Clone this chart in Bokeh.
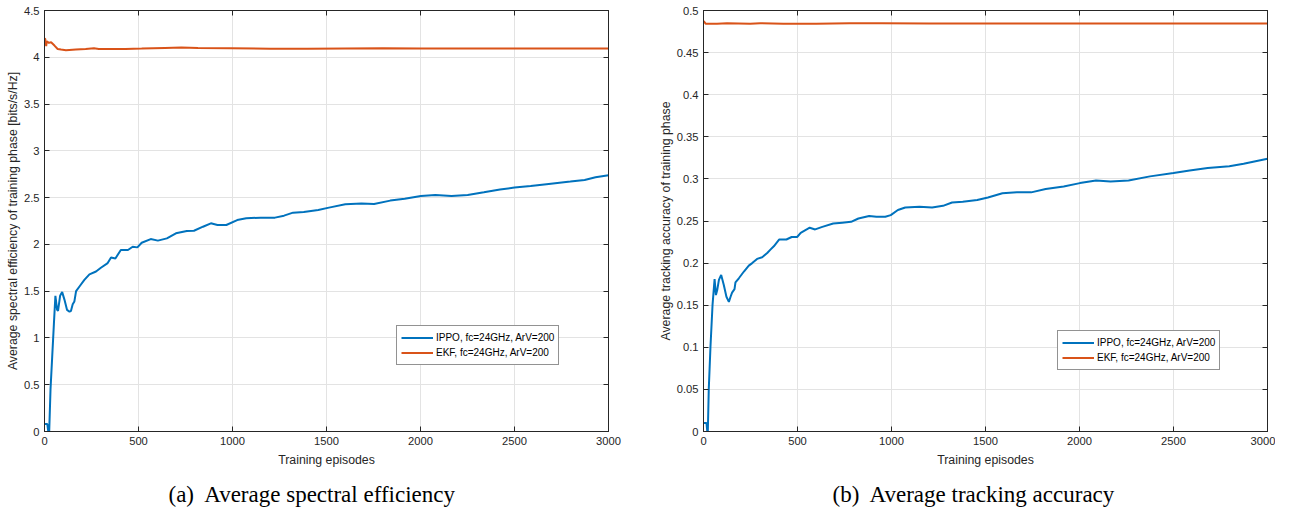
from bokeh.plotting import figure
from bokeh.models import (LinearAxis, FixedTicker, Range1d, Legend, LegendItem, Title,
                          CustomJSTickFormatter)
from bokeh.layouts import row
from bokeh.embed import file_html
from bokeh.resources import INLINE

# ---------------- data ----------------
x_ticks = [0, 500, 1000, 1500, 2000, 2500, 3000]
se_ticks = [0, 0.5, 1, 1.5, 2, 2.5, 3, 3.5, 4, 4.5]
ta_ticks = [0, 0.05, 0.1, 0.15, 0.2, 0.25, 0.3, 0.35, 0.4, 0.45, 0.5]

se_ippo_x = [0, 15, 20, 25, 32, 41, 50, 58, 67, 72, 83, 94, 106, 120, 133, 141, 150, 159, 168, 186,
             212, 239, 274, 300, 336, 354, 377, 406, 444, 469, 494, 517, 565, 603, 651, 699, 757, 795,
             843, 885, 920, 967, 1025, 1073, 1149, 1226, 1274, 1322, 1379, 1456, 1513, 1600, 1686,
             1753, 1839, 1916, 2002, 2079, 2165, 2251, 2337, 2423, 2500, 2586, 2682, 2797, 2873, 2931, 3000]
se_ippo_y = [0.08, 0.08, 0.0, 0.0, 0.45, 0.8, 1.15, 1.45, 1.30, 1.29, 1.45, 1.49, 1.41, 1.30, 1.28, 1.29,
             1.36, 1.39, 1.50, 1.55, 1.62, 1.68, 1.71, 1.75, 1.80, 1.86, 1.85, 1.94, 1.94, 1.975, 1.968,
             2.018, 2.057, 2.04, 2.064, 2.118, 2.143, 2.146, 2.189, 2.225, 2.207, 2.207, 2.26, 2.279,
             2.286, 2.286, 2.307, 2.339, 2.346, 2.368, 2.393, 2.429, 2.436, 2.432, 2.468, 2.489, 2.518,
             2.529, 2.518, 2.529, 2.557, 2.586, 2.607, 2.625, 2.646, 2.671, 2.689, 2.718, 2.739]

se_ekf_x = [0, 4, 9, 12, 23, 35, 53, 70, 88, 114, 167, 219, 263, 289, 342, 430, 517, 640, 728, 816,
            991, 1200, 1400, 1600, 1800, 2000, 2200, 2400, 2600, 2800, 3000]
se_ekf_y = [4.20, 4.196, 4.118, 4.171, 4.154, 4.16, 4.125, 4.089, 4.082, 4.075, 4.082, 4.089, 4.096,
            4.089, 4.089, 4.089, 4.093, 4.10, 4.104, 4.10, 4.096, 4.092, 4.09, 4.093, 4.096, 4.095,
            4.094, 4.093, 4.094, 4.094, 4.094]

ta_ippo_x = [0, 16, 20, 23, 28, 37, 48, 59, 66, 73, 82, 94, 108, 122, 135, 144, 152, 165, 170, 188,
             215, 241, 259, 285, 312, 339, 356, 374, 402, 441, 469, 498, 517, 565, 594, 632, 690, 738,
             785, 824, 881, 920, 967, 996, 1034, 1073, 1149, 1216, 1274, 1322, 1379, 1456, 1513, 1590,
             1667, 1743, 1820, 1916, 2002, 2088, 2165, 2261, 2375, 2500, 2586, 2682, 2797, 2873, 3000]
ta_ippo_y = [0.01, 0.01, 0.0, 0.0, 0.05, 0.10, 0.15, 0.181, 0.162, 0.168, 0.180, 0.186, 0.174, 0.160,
             0.154, 0.160, 0.165, 0.169, 0.177, 0.182, 0.19, 0.197, 0.2, 0.205, 0.207, 0.212, 0.216,
             0.22, 0.228, 0.228, 0.231, 0.231, 0.236, 0.242, 0.24, 0.243, 0.247, 0.248, 0.249, 0.253,
             0.256, 0.255, 0.255, 0.257, 0.263, 0.266, 0.267, 0.266, 0.268, 0.272, 0.273, 0.275, 0.278,
             0.283, 0.284, 0.284, 0.288, 0.291, 0.295, 0.298, 0.297, 0.298, 0.303, 0.307, 0.31, 0.313,
             0.315, 0.318, 0.324]

ta_ekf_x = [0, 2, 11, 28, 72, 125, 248, 301, 424, 600, 776, 952, 1200, 1500, 1800, 2100, 2400, 2700, 3000]
ta_ekf_y = [0.487, 0.4872, 0.4844, 0.4844, 0.4844, 0.4848, 0.4844, 0.4848, 0.4844, 0.4844, 0.4848,
            0.4848, 0.4846, 0.4845, 0.4847, 0.4846, 0.4846, 0.4847, 0.4847]

legend_labels = ["IPPO, fc=24GHz, ArV=200", "EKF, fc=24GHz, ArV=200"]
x_label = "Training episodes"
se_label = "Average spectral efficiency of training phase [bits/s/Hz]"
ta_label = "Average tracking accuracy of training phase"
captions = ["(a)\u00a0 Average spectral efficiency", "(b)\u00a0 Average tracking accuracy"]

BLUE = "#0072BD"
ORANGE = "#D95319"
AX = "#262626"
GRID = "#e3e3e3"
SANS = "Liberation Sans"


def style_axis(ax, ticks, show_labels=True):
    ax.ticker = FixedTicker(ticks=ticks)
    ax.formatter = CustomJSTickFormatter(code="return String(Math.round(tick*1000)/1000);")
    ax.major_tick_in = 5
    ax.major_tick_out = 0
    ax.minor_tick_line_color = None
    ax.axis_line_color = AX
    ax.major_tick_line_color = AX
    ax.major_label_text_font = SANS
    ax.axis_label_text_font = SANS
    ax.axis_label_text_font_style = "normal"
    ax.axis_label_text_color = AX
    ax.axis_label_text_font_size = "12.3px"
    if show_labels:
        ax.major_label_text_color = AX
        ax.major_label_text_font_size = "11.2px"
        ax.major_label_standoff = 5
        ax.axis_label_standoff = 5
    else:
        ax.major_label_text_color = None
        ax.major_label_text_font_size = "1px"
        ax.major_label_standoff = 0


def make_panel(ix, iy, ex, ey, ymax, yticks, ylabel, caption, leg_loc, mb_left, mb_right, cap_off):
    p = figure(frame_width=564, frame_height=421, x_range=Range1d(0, 3000), y_range=Range1d(0, ymax),
               output_backend="svg", toolbar_location=None,
               min_border_left=mb_left, min_border_right=mb_right, min_border_top=10,
               min_border_bottom=20)
    p.background_fill_color = "white"
    p.border_fill_color = "white"
    p.outline_line_color = AX
    p.outline_line_width = 1

    style_axis(p.below[0], x_ticks)
    p.below[0].axis_label = x_label
    style_axis(p.left[0], yticks)
    p.left[0].axis_label = ylabel
    p.left[0].axis_label_standoff = 1

    top = LinearAxis()
    style_axis(top, x_ticks, show_labels=False)
    p.add_layout(top, "above")
    right = LinearAxis()
    style_axis(right, yticks, show_labels=False)
    p.add_layout(right, "right")

    p.xgrid.ticker = FixedTicker(ticks=x_ticks)
    p.ygrid.ticker = FixedTicker(ticks=yticks)
    for g in (p.xgrid, p.ygrid):
        g.grid_line_color = GRID
        g.grid_line_width = 1

    r1 = p.line(ix, iy, line_color=BLUE, line_width=2)
    r2 = p.line(ex, ey, line_color=ORANGE, line_width=2)

    leg = Legend(items=[LegendItem(label=legend_labels[0], renderers=[r1]),
                        LegendItem(label=legend_labels[1], renderers=[r2])],
                 location=leg_loc, margin=0, padding=4, spacing=0,
                 glyph_width=32, glyph_height=15, label_height=15, label_standoff=3,
                 label_text_font=SANS, label_text_font_size="10px", label_text_color="black",
                 border_line_color=AX, border_line_width=1, background_fill_alpha=1)
    p.add_layout(leg)

    cap = Title(text=caption, align="left", text_font="Liberation Serif", text_font_size="23px",
                text_font_style="normal", text_color="black", standoff=20, offset=cap_off)
    p.add_layout(cap, "below")
    return p


p1 = make_panel(se_ippo_x, se_ippo_y, se_ekf_x, se_ekf_y, 4.5, se_ticks, se_label, captions[0],
                (352, 66), 44, 42, 124)
p2 = make_panel(ta_ippo_x, ta_ippo_y, ta_ekf_x, ta_ekf_y, 0.5, ta_ticks, ta_label, captions[1],
                (354, 61), 53, 8, 129)

layout = row(p1, p2)
open("out.html", "w").write(file_html(layout, INLINE))
